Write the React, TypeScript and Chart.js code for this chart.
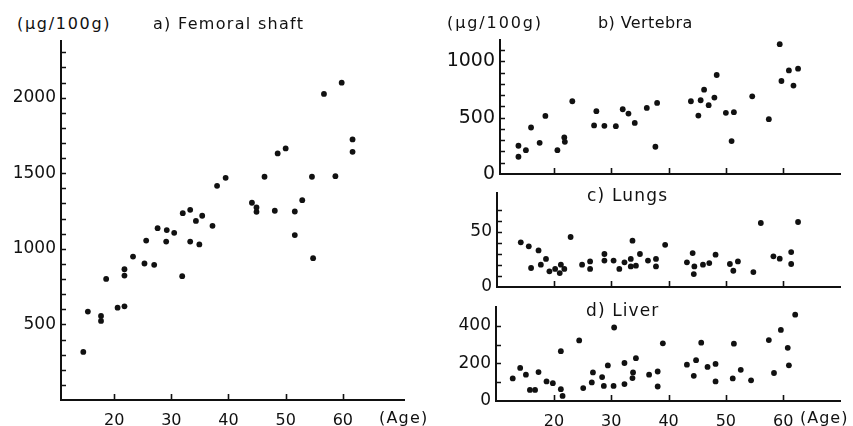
import React, { useEffect, useRef } from "react";
import { Chart, registerables } from "chart.js";

Chart.register(...registerables);

// ---------- DATA ----------
// a) Femoral shaft (µg/100g) vs age
const femurAge = [14.6, 15.4, 17.7, 17.7, 18.6, 20.6, 21.8, 21.8, 21.8, 23.3, 25.3, 25.6, 27.0, 27.6, 29.1, 29.2, 30.5, 31.9, 32.0, 33.3, 33.3, 34.3, 34.9, 35.4, 37.2, 38.0, 39.5, 44.1, 44.9, 44.9, 46.3, 48.1, 48.6, 50.0, 51.6, 51.6, 52.9, 54.6, 54.8, 56.7, 58.7, 59.8, 61.7, 61.7];
const femurVal = [318, 585, 556, 523, 801, 611, 620, 865, 823, 949, 903, 1055, 894, 1137, 1048, 1124, 1106, 819, 1236, 1258, 1048, 1185, 1029, 1219, 1152, 1417, 1470, 1305, 1274, 1245, 1477, 1252, 1631, 1664, 1247, 1091, 1322, 1477, 938, 2025, 1481, 2099, 1724, 1642];

// b) Vertebra
const vertAge = [13.8, 13.8, 15.1, 16.0, 17.5, 18.5, 20.6, 21.8, 21.9, 23.2, 27.0, 27.4, 28.8, 30.8, 32.0, 33.0, 34.1, 36.2, 38.0, 37.7, 43.9, 45.2, 45.6, 46.2, 47.0, 48.0, 48.4, 50.0, 51.0, 51.4, 54.6, 57.5, 59.4, 59.7, 61.0, 61.8, 62.6];
const vertVal = [251, 153, 212, 413, 277, 516, 212, 325, 286, 646, 431, 558, 428, 425, 575, 537, 454, 587, 631, 242, 646, 519, 655, 749, 611, 679, 879, 543, 292, 549, 690, 487, 1153, 826, 920, 785, 935];

// c) Lungs
const lungAge = [14.2, 15.6, 16.0, 17.3, 17.7, 18.6, 19.2, 20.2, 21.0, 21.2, 21.8, 22.9, 24.9, 26.3, 26.3, 28.8, 28.8, 30.4, 31.4, 32.3, 33.4, 33.4, 33.7, 34.3, 35.0, 36.4, 37.8, 37.8, 39.4, 43.2, 44.2, 44.5, 44.4, 46.0, 47.1, 48.2, 50.7, 51.3, 52.1, 54.8, 56.1, 58.3, 59.4, 61.4, 61.4, 62.6];
const lungVal = [40.6, 37.0, 17.3, 33.3, 20.3, 25.5, 14.3, 16.4, 12.7, 20.3, 16.4, 45.5, 20.3, 23.3, 16.4, 30.0, 24.0, 24.0, 16.4, 22.4, 25.5, 18.7, 42.1, 19.4, 30.0, 24.0, 25.5, 18.7, 38.4, 22.4, 30.9, 18.7, 11.8, 20.3, 21.8, 29.4, 20.9, 14.8, 23.3, 13.6, 58.2, 27.9, 25.8, 31.8, 20.9, 59.1];

// d) Liver
const liverAge = [12.8, 14.1, 15.1, 15.8, 16.7, 17.3, 18.7, 19.8, 21.2, 21.2, 21.5, 24.4, 25.1, 26.6, 26.8, 28.4, 28.7, 29.4, 30.4, 30.5, 32.3, 32.3, 33.7, 33.8, 34.3, 36.6, 38.1, 38.1, 39.0, 43.2, 44.4, 44.8, 45.7, 46.8, 48.2, 48.2, 51.4, 51.2, 52.6, 54.4, 57.5, 58.4, 59.6, 60.8, 61.0, 62.1];
const liverVal = [120, 176, 140, 59, 59, 154, 104, 95, 63, 265, 27, 322, 69, 99, 152, 127, 80, 189, 80, 391, 90, 202, 122, 152, 228, 140, 157, 77, 307, 193, 134, 217, 310, 181, 197, 104, 305, 120, 166, 110, 324, 149, 378, 283, 190, 459];

const ageTicks = [20, 30, 40, 50, 60];
const unitLabel = "(\u03bcg/100g)";
const titles = ["a) Femoral shaft", "b) Vertebra", "c) Lungs", "d) Liver"];
const ageLabel = "(Age)";

const INK = "#111";
const FONT = "'DejaVu Sans', sans-serif";

const inwardTicks = {
  id: "inwardTicks",
  afterDatasetsDraw(chart: any, _a: any, opts: any) {
    const { ctx, chartArea, scales } = chart;
    const x = scales.x;
    const y = scales.y;
    ctx.save();
    ctx.strokeStyle = INK;
    ctx.lineWidth = 1.6;
    ctx.beginPath();
    y.ticks.forEach((t: any) => {
      if (t.value <= 0) return;
      const py = Math.round(y.getPixelForValue(t.value)) + 0.5;
      ctx.moveTo(chartArea.left, py);
      ctx.lineTo(chartArea.left + opts.len, py);
    });
    x.ticks.forEach((t: any) => {
      const px = Math.round(x.getPixelForValue(t.value)) + 0.5;
      ctx.moveTo(px, chartArea.bottom);
      ctx.lineTo(px, chartArea.bottom - opts.xLen);
    });
    ctx.stroke();
    ctx.restore();
  },
};

type PanelProps = {
  canvasLeft: number;
  plotLeft: number;
  plotTop: number;
  plotRight: number;
  plotBottom: number;
  xAxisH: number;
  xMin: number;
  xMax: number;
  yMax: number;
  yStep: number;
  yLabelStep: number;
  yTickMax: number;
  showZero: boolean;
  showX: boolean;
  yFont: number;
  xs: number[];
  ys: number[];
};

const PAD_TOP = 6;
const PAD_RIGHT = 6;

function Panel(p: PanelProps) {
  const ref = useRef<HTMLCanvasElement | null>(null);
  const yAxisW = p.plotLeft - p.canvasLeft;
  const plotW = p.plotRight - p.plotLeft;
  const plotH = p.plotBottom - p.plotTop;
  const width = yAxisW + plotW + PAD_RIGHT;
  const height = PAD_TOP + plotH + p.xAxisH;

  useEffect(() => {
    if (!ref.current) return;
    const pts = p.xs.map((x, i) => ({ x, y: p.ys[i] }));
    const yTickVals: number[] = [];
    for (let v = 0; v <= p.yTickMax + 1e-9; v += p.yStep) yTickVals.push(Math.round(v * 1000) / 1000);
    const chart = new Chart(ref.current, {
      type: "scatter",
      data: {
        datasets: [
          {
            data: pts,
            pointRadius: 2.9,
            pointBackgroundColor: INK,
            pointBorderWidth: 0,
            pointHoverRadius: 2.9,
          },
        ],
      },
      plugins: [inwardTicks as any],
      options: {
        animation: false,
        responsive: false,
        events: [],
        layout: { padding: { top: PAD_TOP, right: PAD_RIGHT, left: 0, bottom: 0 } },
        plugins: {
          legend: { display: false },
          tooltip: { enabled: false },
          inwardTicks: { len: 5, xLen: 6 },
        } as any,
        scales: {
          x: {
            type: "linear",
            min: p.xMin,
            max: p.xMax,
            grid: { display: true, drawOnChartArea: false, drawTicks: false },
            border: { display: true, color: INK, width: 2 },
            afterBuildTicks: (s: any) => {
              s.ticks = ageTicks.map((v) => ({ value: v }));
            },
            ticks: {
              autoSkip: false,
              maxRotation: 0,
              display: p.showX,
              padding: 11,
              color: INK,
              font: { family: FONT, size: 16 },
              callback: (v: any) => String(v),
            },
            afterFit: (s: any) => {
              s.height = p.xAxisH;
              s.paddingLeft = 0;
              s.paddingRight = 0;
            },
          },
          y: {
            type: "linear",
            min: 0,
            max: p.yMax,
            grid: { display: true, drawOnChartArea: false, drawTicks: false },
            border: { display: true, color: INK, width: 2 },
            afterBuildTicks: (s: any) => {
              s.ticks = yTickVals.map((v) => ({ value: v }));
            },
            ticks: {
              autoSkip: false,
              padding: 5,
              color: INK,
              font: { family: FONT, size: p.yFont },
              callback: (v: any) => {
                const n = Math.round(Number(v));
                if (n === 0) return p.showZero ? "0" : "";
                return n % p.yLabelStep === 0 ? String(n) : "";
              },
            },
            afterFit: (s: any) => {
              s.width = yAxisW;
              s.paddingTop = 0;
              s.paddingBottom = 0;
            },
          },
        },
      },
    });
    return () => chart.destroy();
  }, []);

  return (
    <canvas
      ref={ref}
      width={width}
      height={height}
      style={{
        position: "absolute",
        left: p.canvasLeft,
        top: p.plotTop - PAD_TOP,
        width,
        height,
      }}
    />
  );
}

function Label(props: { text: string; left: number; cy: number; size: number; spacing: number }) {
  return (
    <div
      style={{
        position: "absolute",
        left: props.left,
        top: props.cy - 11,
        height: 22,
        lineHeight: "22px",
        fontFamily: FONT,
        fontSize: props.size,
        letterSpacing: props.spacing,
        color: INK,
        whiteSpace: "nowrap",
      }}
    >
      {props.text}
    </div>
  );
}

export default function App() {
  return (
    <div
      style={{
        position: "fixed",
        left: 0,
        top: 0,
        width: 853,
        height: 426,
        background: "#fff",
        overflow: "hidden",
      }}
    >
      <Panel
        canvasLeft={0}
        plotLeft={61}
        plotTop={41}
        plotRight={404}
        plotBottom={400}
        xAxisH={26}
        xMin={10.7}
        xMax={70.7}
        yMax={2375}
        yStep={100}
        yLabelStep={500}
        yTickMax={2300}
        showZero={false}
        showX={true}
        yFont={17}
        xs={femurAge}
        ys={femurVal}
      />
      <Panel
        canvasLeft={430}
        plotLeft={500}
        plotTop={40}
        plotRight={840}
        plotBottom={174}
        xAxisH={6}
        xMin={10.58}
        xMax={69.92}
        yMax={1190}
        yStep={100}
        yLabelStep={500}
        yTickMax={1100}
        showZero={true}
        showX={false}
        yFont={19}
        xs={vertAge}
        ys={vertVal}
      />
      <Panel
        canvasLeft={430}
        plotLeft={497}
        plotTop={193}
        plotRight={840}
        plotBottom={287}
        xAxisH={6}
        xMin={10.05}
        xMax={69.92}
        yMax={85.5}
        yStep={10}
        yLabelStep={50}
        yTickMax={70}
        showZero={true}
        showX={false}
        yFont={17}
        xs={lungAge}
        ys={lungVal}
      />
      <Panel
        canvasLeft={430}
        plotLeft={496}
        plotTop={307}
        plotRight={840}
        plotBottom={401}
        xAxisH={25}
        xMin={9.88}
        xMax={69.92}
        yMax={500}
        yStep={100}
        yLabelStep={200}
        yTickMax={400}
        showZero={true}
        showX={true}
        yFont={17}
        xs={liverAge}
        ys={liverVal}
      />
      <Label text={unitLabel} left={17} cy={24} size={16} spacing={1.7} />
      <Label text={titles[0]} left={153} cy={24} size={16} spacing={1.3} />
      <Label text={unitLabel} left={447} cy={23} size={16} spacing={1.9} />
      <Label text={titles[1]} left={598} cy={23} size={16} spacing={0.4} />
      <Label text={titles[2]} left={587} cy={195} size={17} spacing={1.2} />
      <Label text={titles[3]} left={586} cy={310} size={17} spacing={1.1} />
      <Label text={ageLabel} left={379} cy={418} size={16} spacing={1.2} />
      <Label text={ageLabel} left={800} cy={418} size={16} spacing={1.0} />
    </div>
  );
}
